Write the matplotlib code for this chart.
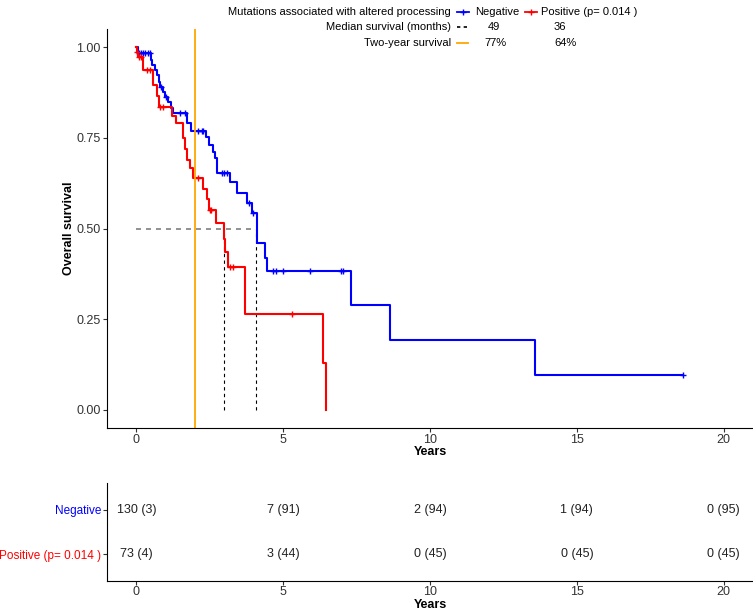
import numpy as np
import matplotlib
matplotlib.use('Agg')
import matplotlib.pyplot as plt

plt.rcParams['font.family'] = ['Liberation Sans', 'DejaVu Sans']

# Kaplan-Meier step data (years, survival)
neg_t = [0, 0.07, 0.51, 0.54, 0.64, 0.71, 0.76, 0.81, 0.92, 0.98, 1.08, 1.19, 1.25,
         1.73, 1.86, 2.37, 2.47, 2.61, 2.68, 2.75, 3.19, 3.42, 3.76, 3.93, 4.10,
         4.37, 4.44, 7.32, 8.64, 13.59]
neg_s = [1.0, 0.985, 0.965, 0.95, 0.937, 0.923, 0.904, 0.89, 0.876, 0.862, 0.848,
         0.832, 0.818, 0.79, 0.77, 0.752, 0.73, 0.71, 0.694, 0.653, 0.628, 0.598,
         0.57, 0.543, 0.46, 0.42, 0.383, 0.29, 0.193, 0.096]
neg_end = 18.6
neg_cens = [0.08, 0.15, 0.22, 0.3, 0.38, 0.45, 0.85, 1.0, 1.49, 1.66, 2.1, 2.24,
            2.27, 2.9, 3.0, 3.1, 3.83, 3.97, 4.64, 4.75, 4.98, 5.9, 6.98, 7.05, 18.6]

pos_t = [0, 0.02, 0.05, 0.24, 0.58, 0.71, 0.78, 1.22, 1.36, 1.59, 1.66, 1.73, 1.83,
         1.93, 2.27, 2.41, 2.47, 2.71, 2.98, 3.02, 3.12, 3.69, 6.34, 6.47]
pos_s = [1.0, 0.986, 0.973, 0.937, 0.895, 0.865, 0.835, 0.81, 0.79, 0.75, 0.72,
         0.69, 0.667, 0.64, 0.61, 0.58, 0.55, 0.515, 0.47, 0.435, 0.395, 0.265,
         0.13, 0.0]
pos_end = 6.47
pos_cens = [0.03, 0.1, 0.15, 0.37, 0.47, 0.8, 0.9, 2.1, 2.5, 2.55, 3.2, 3.3, 5.3]

medians = [4.08, 3.0]        # years (49 and 36 months)
two_year = 2
risk_times = [0, 5, 10, 15, 20]
neg_risk = ['130 (3)', '7 (91)', '2 (94)', '1 (94)', '0 (95)']
pos_risk = ['73 (4)', '3 (44)', '0 (45)', '0 (45)', '0 (45)']

BLUE = '#0000FF'
RED = '#FF0000'
ORANGE = '#FFA500'


def surv_at(t, s, x):
    idx = np.searchsorted(t, x, side='right') - 1
    return np.array(s)[idx]


fig = plt.figure(figsize=(7.53, 6.10), dpi=100)
ax = fig.add_axes([107 / 753, 1 - 428 / 610, 1 - 107 / 753, (428 - 29) / 610])

# median lines
ax.plot([0, medians[0]], [0.5, 0.5], ls=(0, (3, 3)), color='#7f7f7f', lw=1.2)
for m in medians:
    ax.plot([m, m], [0, 0.5], ls=(0, (3, 3)), color='black', lw=0.8)

# curves
for t, s, end, cens, col in [(neg_t, neg_s, neg_end, neg_cens, BLUE),
                             (pos_t, pos_s, pos_end, pos_cens, RED)]:
    ax.step(list(t) + [end], list(s) + [s[-1]], where='post', color=col, lw=1.5)
    ax.plot(cens, surv_at(t, s, cens), ls='none', marker='+', color=col, ms=5, mew=1)

ax.axvline(two_year, color=ORANGE, lw=1.3)

ax.set_xlim(-1, 21)
ax.set_ylim(-0.05, 1.05)
ax.set_xticks(risk_times)
ax.set_yticks([0, 0.25, 0.5, 0.75, 1.0])
ax.set_yticklabels(['0.00', '0.25', '0.50', '0.75', '1.00'])
ax.set_xlabel('Years', fontsize=9, fontweight='bold', labelpad=0)
ax.set_ylabel('Overall survival', fontsize=9, fontweight='bold', labelpad=1)
ax.tick_params(labelsize=9, length=3, color='#333333', labelcolor='#333333', pad=1.5)
for sp in ['top', 'right']:
    ax.spines[sp].set_visible(False)

# risk table
rt = fig.add_axes([107 / 753, 1 - 581 / 610, 1 - 107 / 753, (581 - 483) / 610])
rt.set_xlim(-1, 21)
rt.set_ylim(0.4, 2.6)
for x, a, b in zip(risk_times, neg_risk, pos_risk):
    rt.text(x, 2, a, ha='center', va='center', fontsize=9, color='#222222')
    rt.text(x, 1, b, ha='center', va='center', fontsize=9, color='#222222')
rt.set_xticks(risk_times)
rt.set_yticks([1, 2])
rt.set_yticklabels(['Positive (p= 0.014 )', 'Negative'])
for lbl, col in zip(rt.get_yticklabels(), [RED, BLUE]):
    lbl.set_color(col)
    lbl.set_fontsize(8.5)
rt.set_xlabel('Years', fontsize=9, fontweight='bold', labelpad=0.5)
rt.tick_params(length=3, color='#333333', pad=1)
rt.tick_params(axis='x', labelsize=9, labelcolor='#333333', pad=0.5)
for sp in ['top', 'right']:
    rt.spines[sp].set_visible(False)

# legend drawn in pixel coords
lg = fig.add_axes([0, 0, 1, 1], facecolor='none')
lg.set_xlim(0, 753)
lg.set_ylim(610, 0)
lg.axis('off')
fs = 8
lg.text(451, 12, 'Mutations associated with altered processing', ha='right', va='center', fontsize=fs)
lg.plot([457, 469], [12, 12], color=BLUE, lw=1.3)
lg.plot([463], [12], marker='+', color=BLUE, ms=5, mew=1)
lg.text(475, 12, 'Negative', ha='left', va='center', fontsize=fs)
lg.plot([525, 537], [12, 12], color=RED, lw=1.3)
lg.plot([531], [12], marker='+', color=RED, ms=5, mew=1)
lg.text(541, 12, 'Positive (p= 0.014 )', ha='left', va='center', fontsize=fs)

lg.text(451, 27, 'Median survival (months)', ha='right', va='center', fontsize=fs)
lg.plot([457, 468], [27, 27], color='black', lw=1.2, ls=(0, (2, 2)))
lg.text(488, 27, '49', ha='left', va='center', fontsize=fs)
lg.text(554, 27, '36', ha='left', va='center', fontsize=fs)

lg.text(451, 43, 'Two-year survival', ha='right', va='center', fontsize=fs)
lg.plot([457, 468], [43, 43], color=ORANGE, lw=1.3)
lg.text(484, 43, '77%', ha='left', va='center', fontsize=fs)
lg.text(554, 43, '64%', ha='left', va='center', fontsize=fs)

fig.savefig('out.png', dpi=100)
